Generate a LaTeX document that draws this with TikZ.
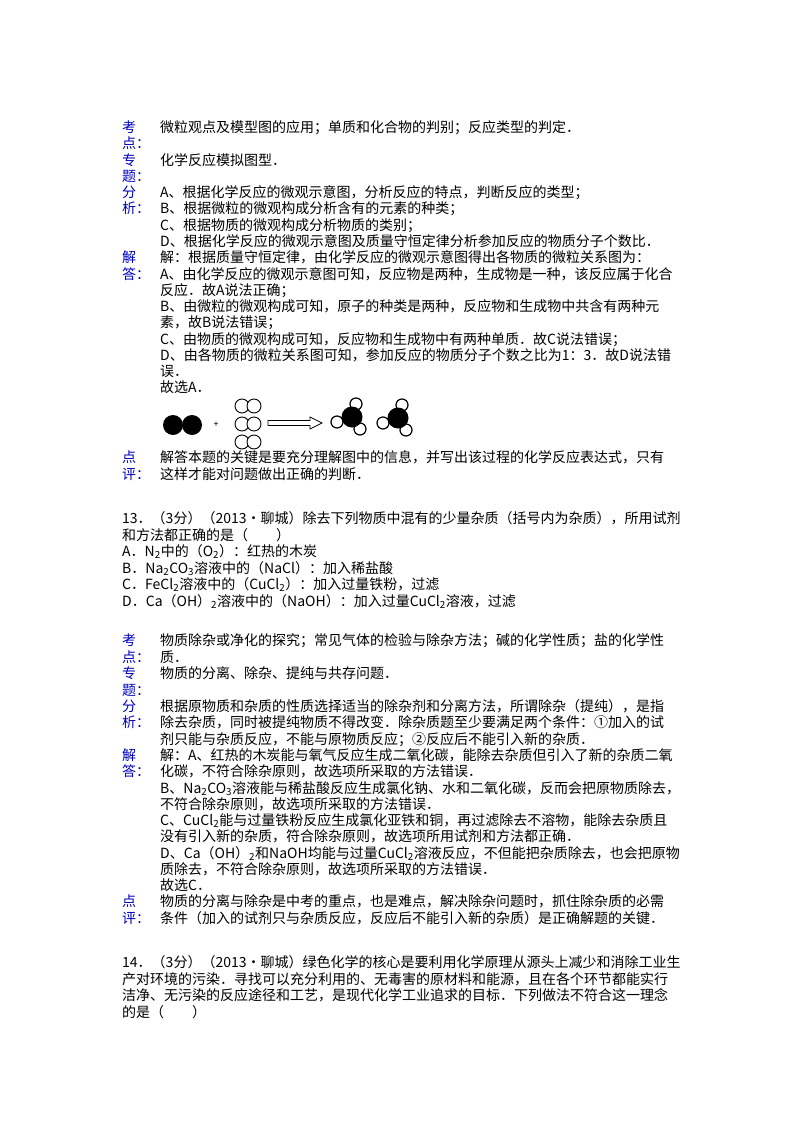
\documentclass[tikz,border=0pt]{standalone}
\usepackage{fontspec}
\setmainfont{Noto Sans CJK SC}
\begin{document}
\begin{tikzpicture}[x=1pt,y=-1pt,
  t/.style={anchor=base west,inner sep=0pt,font=\fontsize{14}{16}\selectfont},
  lb/.style={t,text=blue!75!black},
  wa/.style={draw=black,line width=1.2pt,fill=white},
  ba/.style={fill=black}]
\useasboundingbox (0,0) rectangle (800,1132);
\newcommand{\sub}[1]{\textsubscript{#1}}
% block 1
\node[lb] (l1) at (122,132) {考};
\node[lb] (l2) at (122,148) {点：};
\node[t] (a1) at (160,132) {微粒观点及模型图的应用；单质和化合物的判别；反应类型的判定．};
\node[lb] (l3) at (122,165) {专};
\node[lb] (l4) at (122,181) {题：};
\node[t] (a2) at (160,165) {化学反应模拟图型．};
\node[lb] (l5) at (122,197) {分};
\node[lb] (l6) at (122,213) {析：};
\node[t] (a3) at (160,197) {A、根据化学反应的微观示意图，分析反应的特点，判断反应的类型；};
\node[t] (a4) at (160,213) {B、根据微粒的微观构成分析含有的元素的种类；};
\node[t] (a5) at (160,230) {C、根据物质的微观构成分析物质的类别；};
\node[t] (a6) at (160,246) {D、根据化学反应的微观示意图及质量守恒定律分析参加反应的物质分子个数比．};
\node[lb] (l7) at (122,262) {解};
\node[lb] (l8) at (122,279) {答：};
\node[t] (b1) at (160,262) {解：根据质量守恒定律，由化学反应的微观示意图得出各物质的微粒关系图为：};
\node[t] (b2) at (160,279) {A、由化学反应的微观示意图可知，反应物是两种，生成物是一种，该反应属于化合};
\node[t] (b3) at (160,295) {反应．故A说法正确；};
\node[t] (b4) at (160,311) {B、由微粒的微观构成可知，原子的种类是两种，反应物和生成物中共含有两种元};
\node[t] (b5) at (160,327) {素，故B说法错误；};
\node[t] (b6) at (160,344) {C、由物质的微观构成可知，反应物和生成物中有两种单质．故C说法错误；};
\node[t] (b7) at (160,360) {D、由各物质的微粒关系图可知，参加反应的物质分子个数之比为1：3．故D说法错};
\node[t] (b8) at (160,376) {误．};
\node[t] (b9) at (160,392) {故选A．};
% diagram
\fill[ba] (173,425) circle (10); \fill[ba] (192,425) circle (10);
\node[inner sep=0pt,font=\small] (plus) at (216,425) {+};
\foreach \yy in {406,424,442}{\draw[wa,line width=0.9pt] (242,\yy) circle (7); \draw[wa,line width=0.9pt] (254,\yy) circle (7);}
\coordinate (ar1) at (268,423); \coordinate (ar2) at (322,423);
\draw[line width=0.8pt] (268,420.5) -- (310,420.5) -- (310,417) -- (322,423) -- (310,429) -- (310,425.5) -- (268,425.5) -- cycle;
\foreach \cx/\cy in {352/417,398/418}{
  \draw[wa] (\cx+4,\cy-13) circle (6);
  \draw[wa] (\cx-15,\cy+5) circle (6);
  \draw[wa] (\cx+8,\cy+12) circle (6);
  \fill[ba] (\cx,\cy) circle (10.5);}
\node[lb] (l9) at (122,462) {点};
\node[lb] (l10) at (122,479) {评：};
\node[t] (c1) at (160,462) {解答本题的关键是要充分理解图中的信息，并写出该过程的化学反应表达式，只有};
\node[t] (c2) at (160,479) {这样才能对问题做出正确的判断．};
% Q13
\node[t] (q1) at (122,523) {13．（3分）（2013•聊城）除去下列物质中混有的少量杂质（括号内为杂质），所用试剂};
\node[t] (q2) at (122,540) {和方法都正确的是（　　）};
\node[t] (q3) at (122,556) {A．N\sub{2}中的（O\sub{2}）：红热的木炭};
\node[t] (q4) at (122,573) {B．Na\sub{2}CO\sub{3}溶液中的（NaCl）：加入稀盐酸};
\node[t] (q5) at (122,589) {C．FeCl\sub{2}溶液中的（CuCl\sub{2}）：加入过量铁粉，过滤};
\node[t] (q6) at (122,606) {D．Ca（OH）\sub{2}溶液中的（NaOH）：加入过量CuCl\sub{2}溶液，过滤};
% block 2
\node[lb] (m1) at (122,645) {考};
\node[lb] (m2) at (122,662) {点：};
\node[t] (d1) at (160,645) {物质除杂或净化的探究；常见气体的检验与除杂方法；碱的化学性质；盐的化学性};
\node[t] (d2) at (160,662) {质．};
\node[lb] (m3) at (122,678) {专};
\node[lb] (m4) at (122,695) {题：};
\node[t] (d3) at (160,678) {物质的分离、除杂、提纯与共存问题．};
\node[lb] (m5) at (122,711) {分};
\node[lb] (m6) at (122,727) {析：};
\node[t] (d4) at (160,711) {根据原物质和杂质的性质选择适当的除杂剂和分离方法，所谓除杂（提纯），是指};
\node[t] (d5) at (160,727) {除去杂质，同时被提纯物质不得改变．除杂质题至少要满足两个条件：①加入的试};
\node[t] (d6) at (160,744) {剂只能与杂质反应，不能与原物质反应；②反应后不能引入新的杂质．};
\node[lb] (m7) at (122,760) {解};
\node[lb] (m8) at (122,776) {答：};
\node[t] (e1) at (160,760) {解：A、红热的木炭能与氧气反应生成二氧化碳，能除去杂质但引入了新的杂质二氧};
\node[t] (e2) at (160,776) {化碳，不符合除杂原则，故选项所采取的方法错误．};
\node[t] (e3) at (160,793) {B、Na\sub{2}CO\sub{3}溶液能与稀盐酸反应生成氯化钠、水和二氧化碳，反而会把原物质除去，};
\node[t] (e4) at (160,809) {不符合除杂原则，故选项所采取的方法错误．};
\node[t] (e5) at (160,825) {C、CuCl\sub{2}能与过量铁粉反应生成氯化亚铁和铜，再过滤除去不溶物，能除去杂质且};
\node[t] (e6) at (160,841) {没有引入新的杂质，符合除杂原则，故选项所用试剂和方法都正确．};
\node[t] (e7) at (160,858) {D、Ca（OH）\sub{2}和NaOH均能与过量CuCl\sub{2}溶液反应，不但能把杂质除去，也会把原物};
\node[t] (e8) at (160,874) {质除去，不符合除杂原则，故选项所采取的方法错误．};
\node[t] (e9) at (160,890) {故选C．};
\node[lb] (m9) at (122,906) {点};
\node[lb] (m10) at (122,923) {评：};
\node[t] (f1) at (160,906) {物质的分离与除杂是中考的重点，也是难点，解决除杂问题时，抓住除杂质的必需};
\node[t] (f2) at (160,923) {条件（加入的试剂只与杂质反应，反应后不能引入新的杂质）是正确解题的关键．};
% Q14
\node[t] (g1) at (122,967) {14．（3分）（2013•聊城）绿色化学的核心是要利用化学原理从源头上减少和消除工业生};
\node[t] (g2) at (122,984) {产对环境的污染．寻找可以充分利用的、无毒害的原材料和能源，且在各个环节都能实行};
\node[t] (g3) at (122,1000) {洁净、无污染的反应途径和工艺，是现代化学工业追求的目标．下列做法不符合这一理念};
\node[t] (g4) at (122,1017) {的是（　　）};
\end{tikzpicture}
\end{document}
